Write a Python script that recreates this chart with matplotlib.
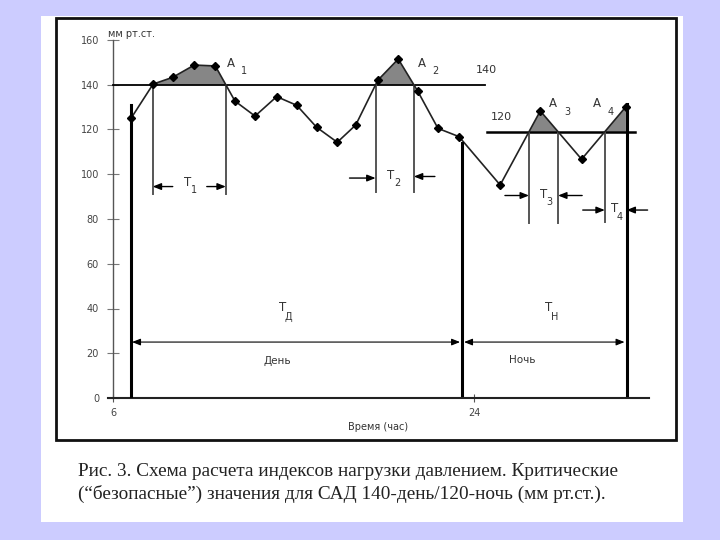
import numpy as np
import matplotlib
matplotlib.use("Agg")
import matplotlib.pyplot as plt
from matplotlib.patches import Rectangle

# ---- data ----
hours = [6.92, 8.0, 8.97, 10.05, 11.1, 12.08, 13.08, 14.16, 15.16, 16.15, 17.18,
         18.1, 19.2, 20.22, 21.18, 22.2, 23.25, 25.3, 27.3, 29.36, 31.57]
sbp = [125.3, 140.3, 143.3, 148.8, 148.4, 132.7, 126.0, 134.7, 130.8, 121.0, 114.3,
       122.0, 142.0, 151.5, 137.3, 120.5, 116.8, 95.2, 128.3, 106.7, 130.2]
day_threshold = 140
night_threshold = 119
day_start = 6.9
night_start = 23.4
night_end = 31.6
yticks = [0, 20, 40, 60, 80, 100, 120, 140, 160]
xticks = [6, 24]

hours = np.array(hours)
sbp = np.array(sbp)

fig = plt.figure(figsize=(7.2, 5.4), dpi=100, facecolor="#ccccff")
W, H = 720.0, 540.0

def fx(px):
    return px / W

def fy(py):
    return 1 - py / H

# white panel and black frame
fig.patches.append(Rectangle((fx(41), fy(522)), (683 - 41) / W, (522 - 16) / H,
                             transform=fig.transFigure, facecolor="white",
                             edgecolor="none", zorder=-2))
fig.patches.append(Rectangle((fx(56), fy(440)), (676 - 56) / W, (440 - 18) / H,
                             transform=fig.transFigure, facecolor="none",
                             edgecolor="#111111", lw=2.0, zorder=-1))

xmin, xmax = 5.75, 32.7
pxh = 20.06
left_px = 113 - (6 - xmin) * pxh
ax = fig.add_axes([fx(left_px), fy(398), (xmax - xmin) * pxh / W, 358 / H])
ax.set_zorder(3)
ax.set_facecolor("none")
ax.set_xlim(xmin, xmax)
ax.set_ylim(0, 160)
for s in ["top", "right"]:
    ax.spines[s].set_visible(False)
ax.spines["left"].set_position(("data", 6))
ax.spines["left"].set_color("#555555")
ax.spines["left"].set_linewidth(1.0)
ax.spines["bottom"].set_color("#222222")
ax.spines["bottom"].set_linewidth(1.5)
ax.set_yticks(yticks)
ax.set_xticks(xticks)
ax.tick_params(axis="y", direction="inout", length=8, width=0.8, color="#777777",
               labelsize=7, labelcolor="#444444", pad=6)
ax.tick_params(axis="x", direction="inout", length=6, width=0.8, color="#555555",
               labelsize=7, labelcolor="#444444", pad=4)
ax.set_xlabel("Время (час)", fontsize=7, color="#333333", labelpad=3)
ax.text(5.75, 162.5, "мм рт.ст.", fontsize=7, color="#333333", ha="left", va="center")

# threshold lines
ax.plot([6, 24.55], [day_threshold] * 2, color="black", lw=1.3, zorder=3)
ax.plot([24.65, 32.0], [night_threshold] * 2, color="black", lw=1.8, zorder=3)

# shaded loads
xf = np.linspace(hours[0], hours[-1], 2000)
yf = np.interp(xf, hours, sbp)
thr = np.where(xf < 24.5, day_threshold, night_threshold)
ax.fill_between(xf, thr, yf, where=yf > thr, color="#868686", lw=0, zorder=2)

# curve
ax.plot(hours, sbp, color="#222222", lw=1.2, marker="D", ms=4, mfc="black",
        mec="black", zorder=5)

# crossings
def crossings(level, lo, hi):
    res = []
    for i in range(len(hours) - 1):
        x0, x1, y0, y1 = hours[i], hours[i + 1], sbp[i], sbp[i + 1]
        if (y0 - level) * (y1 - level) < 0 and lo <= x0 <= hi:
            res.append(x0 + (level - y0) * (x1 - x0) / (y1 - y0))
    return res

cd = crossings(day_threshold, 6, 23)
cn = crossings(night_threshold, 24, 32)
t1a, t1b, t2a, t2b = cd[0], cd[1], cd[2], cd[3]
t3a, t3b, t4a = cn[0], cn[1], cn[2]

gl = dict(color="#555555", lw=1.4, zorder=4)
ax.plot([t1a, t1a], [91, day_threshold], **gl)
ax.plot([t1b, t1b], [91, day_threshold], **gl)
ax.plot([t2a, t2a], [92, day_threshold], **gl)
ax.plot([t2b, t2b], [92, day_threshold], **gl)
ax.plot([t3a, t3a], [78, night_threshold], **gl)
ax.plot([t3b, t3b], [78, night_threshold], **gl)
ax.plot([t4a, t4a], [78.5, night_threshold], **gl)

# thick vertical lines
tl = dict(color="black", lw=2.2, zorder=6)
ax.plot([day_start, day_start], [0, 131], **tl)
ax.plot([night_start, night_start], [1.5, 114], **tl)
ax.plot([night_end, night_end], [1.5, 131.5], **tl)

def arrow(x0, x1, y):
    ax.annotate("", xy=(x1, y), xytext=(x0, y),
                arrowprops=dict(arrowstyle="-|>,head_length=0.5,head_width=0.2",
                                color="black", lw=1.0, shrinkA=0, shrinkB=0),
                zorder=7)

arrow(t1a + 1.0, t1a, 94.5)
arrow(t1b - 0.95, t1b, 94.5)
arrow(t2a - 1.3, t2a, 98.3)
arrow(t2b + 1.05, t2b, 99)
arrow(t3a - 1.2, t3a, 90.5)
arrow(t3b + 1.2, t3b, 90.5)
arrow(t4a - 1.1, t4a, 84)
arrow(night_end + 1.05, night_end, 84)

def darrow(x0, x1, y):
    ax.annotate("", xy=(x1, y), xytext=(x0, y),
                arrowprops=dict(arrowstyle="<|-|>,head_length=0.5,head_width=0.2",
                                color="black", lw=0.8, shrinkA=0, shrinkB=0),
                zorder=7)

darrow(day_start + 0.05, night_start - 0.1, 25)
darrow(night_start + 0.1, night_end - 0.1, 25)

tc = "#333333"
def lbl(x, y, main, sub, fs=8.5, dx=0.6, dy=-3.5):
    ax.text(x, y, main, fontsize=fs, color=tc, ha="center", va="center", zorder=8)
    ax.text(x + dx, y + dy, sub, fontsize=fs - 1.5, color=tc, ha="center",
            va="center", zorder=8)

lbl(11.9, 149.5, "A", "1", dx=0.65)
lbl(21.4, 149.5, "A", "2", dx=0.65)
lbl(27.95, 131.5, "A", "3", dx=0.7)
lbl(30.1, 131.5, "A", "4", dx=0.7)
lbl(9.7, 96.5, "T", "1", dx=0.35)
lbl(19.85, 99.5, "T", "2", dx=0.35)
lbl(27.45, 91, "T", "3", dx=0.3)
lbl(31.0, 84.5, "T", "4", dx=0.25)
lbl(14.45, 40.5, "Т", "Д", fs=8.5, dx=0.3, dy=-4.5)
lbl(27.7, 40.5, "Т", "Н", fs=8.5, dx=0.3, dy=-4.5)

ax.text(24.1, 146.5, "140", fontsize=8, color=tc, ha="left", va="center")
ax.text(24.85, 125.5, "120", fontsize=8, color=tc, ha="left", va="center")
ax.text(14.2, 16.5, "День", fontsize=7.5, color=tc, ha="center", va="center")
ax.text(26.4, 17, "Ночь", fontsize=7.5, color=tc, ha="center", va="center")

cap_font = dict(family="Liberation Serif", fontsize=13.9, color="#222222")
fig.text(fx(78), fy(471), "Рис. 3. Схема расчета индексов нагрузки давлением. Критические",
         ha="left", va="center", **cap_font)
fig.text(fx(78), fy(494), "(“безопасные”) значения для САД 140-день/120-ночь (мм рт.ст.).",
         ha="left", va="center", **cap_font)

fig.savefig("out.png", dpi=100, facecolor=fig.get_facecolor())
